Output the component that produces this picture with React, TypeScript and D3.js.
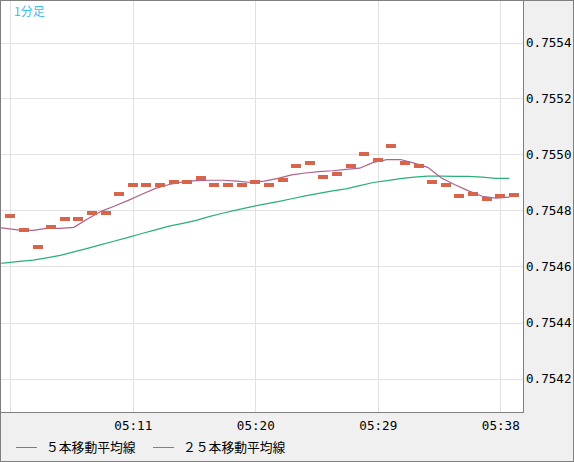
import { useEffect } from "react"
import * as d3 from "d3"

// 1-minute chart, 05:01 .. 05:39
const START = "05:01"
const closes = [
  0.75478, 0.75473, 0.75467, 0.75474, 0.75477, 0.75477, 0.75479, 0.75479, 0.75486, 0.75489,
  0.75489, 0.75489, 0.7549, 0.7549, 0.754915, 0.75489, 0.75489, 0.75489, 0.7549, 0.75489,
  0.75491, 0.75496, 0.75497, 0.75492, 0.75493, 0.75496, 0.755, 0.75498, 0.75503, 0.75497,
  0.75496, 0.7549, 0.75489, 0.75485, 0.75486, 0.75484, 0.75485, 0.754855,
] // from 05:02
const ma5 = [
  0.754741, 0.754736, 0.75473, 0.754729, 0.754736, 0.754736, 0.75474, 0.75477, 0.754797, 0.754816,
  0.754836, 0.754858, 0.754879, 0.754893, 0.754902, 0.754907, 0.754908, 0.754908, 0.754905, 0.7549,
  0.754905, 0.754915, 0.754927, 0.754934, 0.754939, 0.754942, 0.754947, 0.754951, 0.754972, 0.754982,
  0.754982, 0.754969, 0.754954, 0.754916, 0.754892, 0.75487, 0.754851, 0.754844, 0.754848,
] // from 05:01
const ma25 = [
  0.754609, 0.754613, 0.754618, 0.754623, 0.754631, 0.75464, 0.754652, 0.754665, 0.754678, 0.754691,
  0.754704, 0.754718, 0.754731, 0.754744, 0.754754, 0.754765, 0.754779, 0.754791, 0.754802, 0.754813,
  0.754823, 0.754832, 0.754842, 0.754852, 0.754861, 0.75487, 0.754877, 0.754889, 0.7549, 0.754907,
  0.754914, 0.754919, 0.754923, 0.754923, 0.754922, 0.754922, 0.754919, 0.754915, 0.754915,
] // from 05:01
const xTicks = ["05:02", "05:11", "05:20", "05:29", "05:38"]
const yTicks = [0.7542, 0.7544, 0.7546, 0.7548, 0.755, 0.7552, 0.7554]
const title = "1分足"
const legendLabels = ["５本移動平均線", "２５本移動平均線"]

const W = 574
const H = 462
const plot = { left: 1, top: 1, right: 523, bottom: 412 }
const C = {
  bg: "#f0f0f0",
  frame: "#7f7f7f",
  grid: "#e1e1e1",
  bar: "#d6654c",
  ma5: "#b0608c",
  ma25: "#2bae78",
  title: "#3dbdf0",
}
const LINE_SHIFT = 4.5
const mono = "'DejaVu Sans Mono', monospace"
const jp = "'Noto Sans CJK JP', sans-serif"

const toMin = (s: string) => {
  const [h, m] = s.split(":").map(Number)
  return h * 60 + m
}

export default function App() {
  useEffect(() => {
    document.body.style.margin = "0"
  }, [])

  const t0 = toMin(START)
  const x = d3.scaleLinear().domain([toMin("05:02"), toMin("05:38")]).range([10.3, 500.3])
  const y = d3.scaleLinear().domain([0.7542, 0.7554]).range([378.5, 42.5])
  const px = (v: number) => Math.round(v) + 0.5

  const line = d3.line<number>()
    .x((_, i) => x(t0 + i) - LINE_SHIFT)
    .y(d => y(d))

  return (
    <svg width={W} height={H} style={{ display: "block" }}>
      <defs>
        <clipPath id="plotClip">
          <rect x={plot.left} y={plot.top} width={plot.right - plot.left} height={plot.bottom - plot.top} />
        </clipPath>
      </defs>
      <rect x={0.5} y={0.5} width={W - 1} height={H - 1} fill={C.bg} stroke={C.frame} shapeRendering="crispEdges" />
      <rect x={0.5} y={0.5} width={plot.right} height={plot.bottom} fill="#fff" stroke={C.frame} shapeRendering="crispEdges" />

      <g clipPath="url(#plotClip)" shapeRendering="crispEdges">
        {yTicks.map(v => (
          <line key={v} x1={plot.left} x2={plot.right} y1={px(y(v))} y2={px(y(v))} stroke={C.grid} />
        ))}
        {xTicks.map(t => (
          <line key={t} x1={px(x(toMin(t)))} x2={px(x(toMin(t)))} y1={plot.top} y2={plot.bottom} stroke={C.grid} />
        ))}
      </g>

      <g clipPath="url(#plotClip)">
        <path d={line(ma25) || ""} fill="none" stroke={C.ma25} strokeWidth={1.2} />
        <path d={line(ma5) || ""} fill="none" stroke={C.ma5} strokeWidth={1.2} />
        {closes.map((v, i) => (
          <rect key={i} x={Math.round(x(t0 + 1 + i)) - 5} y={Math.round(y(v)) - 2} width={10} height={4}
            fill={C.bar} shapeRendering="crispEdges" />
        ))}
      </g>

      <text x={14} y={15.5} fontFamily={jp} fontSize={12} fill={C.title}>{title}</text>

      {yTicks.map(v => (
        <text key={v} x={526} y={y(v)} dy="0.36em" fontFamily={mono} fontSize={12.6} fill="#000">
          {v.toFixed(4)}
        </text>
      ))}
      {xTicks.filter(t => x(toMin(t)) > 24).map(t => (
        <text key={t} x={x(toMin(t)) + 0.5} y={425} dy="0.36em" textAnchor="middle" fontFamily={mono} fontSize={12.6} fill="#000">
          {t}
        </text>
      ))}

      {legendLabels.map((label, i) => {
        const lx = i === 0 ? 16 : 153
        return (
          <g key={label}>
            <line x1={lx} x2={lx + 21} y1={447.5} y2={447.5} stroke={i === 0 ? C.ma5 : C.ma25} shapeRendering="crispEdges" />
            <text x={lx + 30} y={447.5} dy="0.36em" fontFamily={jp} fontSize={12.8} fill="#000">{label}</text>
          </g>
        )
      })}
    </svg>
  )
}
